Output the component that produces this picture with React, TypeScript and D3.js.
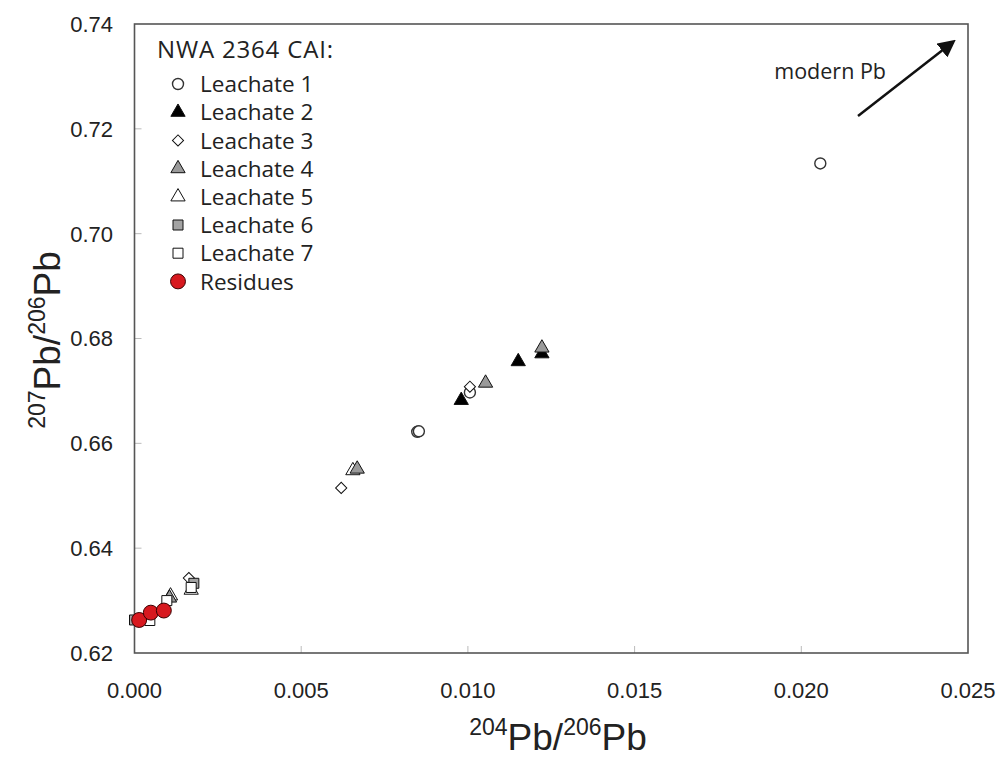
import React from "react";
import * as d3 from "d3";

// 204Pb/206Pb vs 207Pb/206Pb, NWA 2364 CAI
const xTicks = [0, 0.005, 0.01, 0.015, 0.02, 0.025];
const yTicks = [0.62, 0.64, 0.66, 0.68, 0.7, 0.72, 0.74];

const leachate1 = [
  [0.00848, 0.6622],
  [0.00853, 0.6623],
  [0.01006, 0.6697],
  [0.02057, 0.7134],
];
const leachate2 = [
  [0.0098, 0.6682],
  [0.01151, 0.6756],
  [0.01222, 0.6771],
];
const leachate3 = [
  [0.01006, 0.6708],
  [0.0062, 0.6515],
  [0.00163, 0.6343],
];
const leachate4 = [
  [0.01053, 0.6715],
  [0.01222, 0.6782],
  [0.00668, 0.6551],
  [0.00105, 0.6305],
];
const leachate5 = [
  [0.00655, 0.6548],
  [0.0017, 0.632],
  [0.00108, 0.6309],
];
const leachate6 = [
  [0.00178, 0.6333],
  [0.0, 0.6263],
];
const leachate7 = [
  [0.00097, 0.63],
  [0.00046, 0.6262],
  [0.0017, 0.6325],
];
const residues = [
  [0.00014, 0.6263],
  [0.00049, 0.6277],
  [0.00088, 0.6281],
];

const series = [
  { name: "Leachate 1", data: leachate1, shape: "circle", fill: "#fff" },
  { name: "Leachate 2", data: leachate2, shape: "triangle", fill: "#000" },
  { name: "Leachate 3", data: leachate3, shape: "diamond", fill: "#fff" },
  { name: "Leachate 4", data: leachate4, shape: "triangle", fill: "#9a9a9a" },
  { name: "Leachate 5", data: leachate5, shape: "triangle", fill: "#fff" },
  { name: "Leachate 6", data: leachate6, shape: "square", fill: "#a3a3a3" },
  { name: "Leachate 7", data: leachate7, shape: "square", fill: "#fff" },
  { name: "Residues", data: residues, shape: "big", fill: "#d7191f" },
];
// paint order of the series in the plot (leachate 5 sits behind leachate 4)
const drawOrder = [4, 0, 1, 2, 3, 5, 6, 7];

const symbolPath = (shape: string) => {
  if (shape === "circle") return d3.symbol(d3.symbolCircle, 95)()!;
  if (shape === "triangle") return d3.symbol(d3.symbolTriangle, 88)()!;
  if (shape === "diamond") return d3.symbol(d3.symbolSquare, 62)()!;
  if (shape === "square") return d3.symbol(d3.symbolSquare, 100)()!;
  return d3.symbol(d3.symbolCircle, 175)()!;
};

const Marker = ({ shape, fill, x, y }) => (
  <path
    d={symbolPath(shape)}
    transform={`translate(${x},${y})${shape === "diamond" ? " rotate(45)" : ""}`}
    fill={fill}
    stroke={shape === "big" ? "#3a0000" : shape === "circle" ? "#333" : "#111"}
    strokeWidth={shape === "circle" ? 1.4 : 1}
  />
);

export default function App() {
  const width = 999;
  const height = 762;
  const left = 134.5, right = 968, top = 24, bottom = 653;

  const x = d3.scaleLinear().domain([0, 0.025]).range([left, right]);
  const y = d3.scaleLinear().domain([0.62, 0.74]).range([bottom, top]);

  const tickFont = "Liberation Sans, Arial, sans-serif";
  const legendFont = "'Open Sans', 'Noto Sans', sans-serif";

  return (
    <svg width={width} height={height} style={{ position: "absolute", left: 0, top: 0, background: "#fff" }}>
      {/* inside ticks */}
      {yTicks.slice(1, -1).map((t) => (
        <line key={"yt" + t} x1={left} x2={left + 7} y1={y(t)} y2={y(t)} stroke="#bbb" strokeWidth={1} />
      ))}
      {xTicks.slice(1, -1).map((t) => (
        <line key={"xt" + t} x1={x(t)} x2={x(t)} y1={bottom} y2={bottom - 7} stroke="#bbb" strokeWidth={1} />
      ))}
      <rect x={left} y={top} width={right - left} height={bottom - top} fill="none" stroke="#555" strokeWidth={1.6} />

      {yTicks.map((t) => (
        <text key={"yl" + t} x={113} y={y(t)} dy="0.36em" textAnchor="end" fontFamily={tickFont} fontSize={22} fill="#222">
          {t.toFixed(2)}
        </text>
      ))}
      {xTicks.map((t) => (
        <text key={"xl" + t} x={x(t)} y={698} textAnchor="middle" fontFamily={tickFont} fontSize={22} fill="#222">
          {t.toFixed(3)}
        </text>
      ))}

      {/* axis titles */}
      <text x={558} y={750} textAnchor="middle" fontFamily={tickFont} fontSize={37} fill="#222">
        <tspan fontSize={23} dy={-15}>204</tspan>
        <tspan dy={15}>Pb/</tspan>
        <tspan fontSize={23} dy={-15}>206</tspan>
        <tspan dy={15}>Pb</tspan>
      </text>
      <text transform="translate(60,340) rotate(-90)" textAnchor="middle" fontFamily={tickFont} fontSize={37} fill="#222">
        <tspan fontSize={23} dy={-15}>207</tspan>
        <tspan dy={15}>Pb/</tspan>
        <tspan fontSize={23} dy={-15}>206</tspan>
        <tspan dy={15}>Pb</tspan>
      </text>

      {/* data */}
      {drawOrder.map((k) => {
        const s = series[k];
        return s.data.map((d, i) => (
          <Marker key={s.name + i} shape={s.shape} fill={s.fill} x={x(d[0])} y={y(d[1])} />
        ));
      })}

      {/* legend */}
      <text x={157} y={58} fontFamily={legendFont} fontSize={24} textLength={176} lengthAdjust="spacing" fill="#222">
        NWA 2364 CAI:
      </text>
      {series.map((s, i) => (
        <g key={"lg" + s.name} transform={`translate(178,${84 + i * 28.2})`}>
          <Marker shape={s.shape} fill={s.fill} x={0} y={0} />
          <text x={22} dy="0.36em" fontFamily={legendFont} fontSize={22.5} fill="#222">{s.name}</text>
        </g>
      ))}

      {/* modern Pb arrow */}
      <defs>
        <marker id="arrowHead" viewBox="0 0 10 10" refX={8} refY={5} markerWidth={7} markerHeight={7} orient="auto">
          <path d="M0,0 L10,5 L0,10 z" fill="#111" />
        </marker>
      </defs>
      <line x1={858} y1={116} x2={953} y2={42} stroke="#111" strokeWidth={2.5} markerEnd="url(#arrowHead)" />
      <text x={886} y={79} textAnchor="end" fontFamily={legendFont} fontSize={21.5} fill="#222">modern Pb</text>
    </svg>
  );
}
